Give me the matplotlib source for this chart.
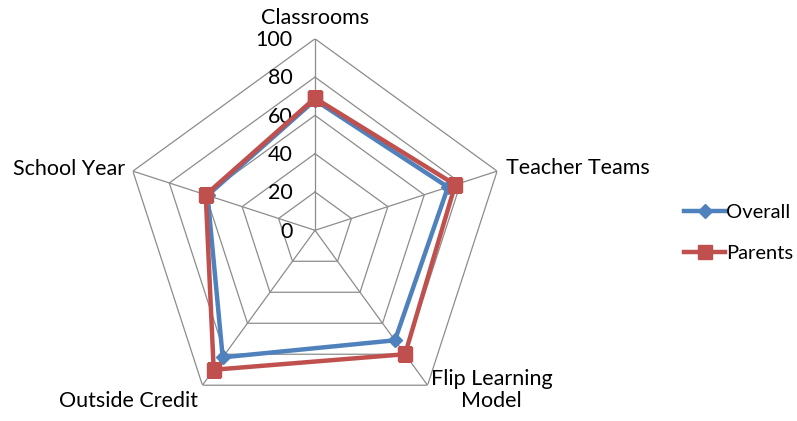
import numpy as np
import matplotlib.pyplot as plt
from matplotlib.lines import Line2D

# --- Data ---
categories = ['Classrooms', 'Teacher Teams', 'Flip Learning\nModel', 'Outside Credit', 'School Year']
overall = [68, 73, 71, 82, 59]
parents = [69, 77, 80, 90, 60]
ring_levels = [0, 20, 40, 60, 80, 100]

BLUE = '#4F81BD'
RED = '#C0504D'
GRID = '#8C8C8C'
FS = 15.5

plt.rcParams['font.family'] = ['Lato', 'DejaVu Sans']

fig = plt.figure(figsize=(7.97, 4.21), dpi=100)
ax = fig.add_axes([0.15496, -0.0019, 0.48055, 0.90974], projection='polar')
ax.set_theta_offset(np.pi / 2)
ax.set_theta_direction(-1)
ax.set_ylim(0, 100)
ax.grid(False)
ax.spines['polar'].set_visible(False)
ax.set_xticks([])
ax.set_yticks([])
ax.patch.set_alpha(0)

n = len(categories)
angles = np.linspace(0, 2 * np.pi, n, endpoint=False)
closed = np.append(angles, angles[0])

# pentagon grid
for lvl in ring_levels[1:]:
    ax.plot(closed, [lvl] * (n + 1), color=GRID, lw=0.9, zorder=1)
for a in angles:
    ax.plot([a, a], [0, 100], color=GRID, lw=0.9, zorder=1)

# value labels on the vertical axis
for lvl in ring_levels:
    ax.annotate(str(lvl), xy=(0, lvl), xytext=(-16, -1), textcoords='offset points',
                ha='right', va='center', fontsize=FS, color='black')

# series
ax.plot(closed, overall + overall[:1], color=BLUE, lw=3.2, marker='D', markersize=7,
        zorder=3, label='Overall')
ax.plot(closed, parents + parents[:1], color=RED, lw=3.2, marker='s', markersize=10,
        zorder=4, label='Parents')

# category labels
label_pos = [
    (0, 111, 'center', 'center'),
    (angles[1], 105, 'left', 'center'),
    (angles[2], 103, 'left', 'center'),
    (angles[3], 104, 'right', 'top'),
    (angles[4], 104, 'right', 'center'),
]
for name, (a, r, ha, va) in zip(categories, label_pos):
    ax.text(a, r, name, ha=ha, va=va, fontsize=FS, multialignment='center',
            color='black', linespacing=1.1)

handles = [
    Line2D([], [], color=BLUE, lw=3.2, marker='D', markersize=7),
    Line2D([], [], color=RED, lw=3.2, marker='s', markersize=10),
]
fig.legend(handles, ['Overall', 'Parents'], loc='center left',
           bbox_to_anchor=(684 / 797, 1 - 233 / 421), frameon=False, borderpad=0,
           borderaxespad=0, fontsize=14.5, handlelength=2.05, handletextpad=0.05,
           labelspacing=1.15)

fig.savefig('out.png', dpi=100)
